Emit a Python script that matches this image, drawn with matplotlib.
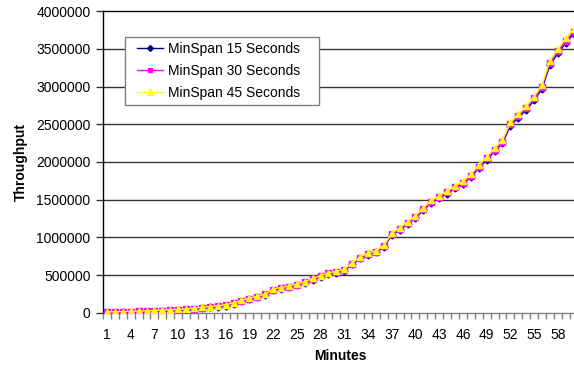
import matplotlib
matplotlib.use("Agg")
import matplotlib.pyplot as plt
from matplotlib.patches import Rectangle
from matplotlib.ticker import FixedLocator, FuncFormatter

plt.rcParams['font.family'] = ['Liberation Sans', 'DejaVu Sans']

minutes = list(range(1, 61))
span_15 = [0, 2000, 4000, 8000, 12000, 15000, 20000, 24000, 28000, 33000,
           38000, 50000, 62000, 70000, 80000, 95000, 120000, 150000, 180000, 205000,
           235000, 300000, 320000, 340000, 365000, 395000, 440000, 475000, 515000, 530000,
           560000, 640000, 720000, 770000, 800000, 870000, 1030000, 1100000, 1180000, 1260000,
           1360000, 1460000, 1520000, 1580000, 1650000, 1710000, 1800000, 1920000, 2030000, 2140000,
           2250000, 2480000, 2590000, 2690000, 2820000, 2970000, 3290000, 3440000, 3580000, 3700000]
span_30 = [5000, 7000, 9000, 13000, 17000, 20000, 25000, 29000, 33000, 38000,
           43000, 55000, 67000, 75000, 86000, 101000, 126000, 156000, 186000, 211000,
           242000, 307000, 327000, 347000, 373000, 403000, 448000, 483000, 524000, 539000,
           569000, 649000, 730000, 780000, 811000, 881000, 1042000, 1113000, 1193000, 1274000,
           1375000, 1475000, 1536000, 1596000, 1667000, 1727000, 1818000, 1938000, 2049000, 2160000,
           2271000, 2502000, 2613000, 2714000, 2845000, 2996000, 3318000, 3469000, 3610000, 3731000]
span_45 = [10000, 12000, 14000, 18000, 22000, 25000, 30000, 34000, 38000, 43000,
           49000, 61000, 73000, 81000, 91000, 106000, 132000, 162000, 193000, 218000,
           248000, 314000, 334000, 355000, 380000, 411000, 456000, 492000, 532000, 547000,
           578000, 659000, 740000, 791000, 821000, 892000, 1054000, 1125000, 1207000, 1288000,
           1389000, 1490000, 1551000, 1612000, 1683000, 1744000, 1835000, 1957000, 2068000, 2180000,
           2292000, 2525000, 2636000, 2738000, 2869000, 3022000, 3346000, 3498000, 3640000, 3762000]
series_labels = ['MinSpan 15 Seconds', 'MinSpan 30 Seconds', 'MinSpan 45 Seconds']
y_ticks = list(range(0, 4000001, 500000))
x_labels = list(range(1, 61, 3))

W, H = 574, 369
fig = plt.figure(figsize=(W / 100, H / 100), dpi=100)
left, right, top, bottom = 103, 577.6, 11.3, 312.7
ax = fig.add_axes([left / W, 1 - bottom / H, (right - left) / W, (bottom - top) / H])

grid_c = '#333333'
for v in y_ticks[1:-1]:
    ax.axhline(v, color=grid_c, lw=1.0, zorder=1)

ax.plot(minutes, span_15, color='#000080', marker='D', ms=3.5, lw=1.0, label=series_labels[0], zorder=3)
ax.plot(minutes, span_30, color='#FF00FF', marker='s', ms=4, lw=1.0, label=series_labels[1], zorder=4)
ax.plot(minutes, span_45, color='#FFFF00', marker='^', ms=5, lw=1.0, label=series_labels[2], zorder=5)

ax.set_xlim(0.5, 60.5)
ax.set_ylim(0, 4000000)

ax.xaxis.set_major_locator(FixedLocator(x_labels))
ax.xaxis.set_minor_locator(FixedLocator([i + 0.5 for i in range(0, 61)]))
ax.tick_params(axis='x', which='major', length=0, pad=11, labelsize=10)
ax.tick_params(axis='x', which='minor', length=4, width=1, color='#808080', direction='out')

ax.set_yticks(y_ticks)
ax.yaxis.set_major_formatter(FuncFormatter(lambda v, p: '%d' % v))
ax.tick_params(axis='y', length=5, width=1, color='#333333', direction='out', labelsize=10, pad=4)

for s in ['left', 'top']:
    ax.spines[s].set_color('black')
    ax.spines[s].set_linewidth(1.0)
ax.spines['bottom'].set_color('#808080')
ax.spines['bottom'].set_linewidth(1.0)
ax.spines['right'].set_visible(False)

ax.set_xlabel('Minutes', fontsize=10, fontweight='bold', labelpad=5)
ax.set_ylabel('Throughput', fontsize=10, fontweight='bold', labelpad=6)

# legend box drawn by hand, entries placed inside it
box = Rectangle((125 / W, 1 - 105 / H), 194 / W, 67.7 / H, transform=fig.transFigure,
                facecolor='white', edgecolor='#808080', lw=1.0, zorder=9)
fig.add_artist(box)
leg = ax.legend(loc='upper left', bbox_to_anchor=(137 / W, 1 - 41.5 / H),
                bbox_transform=fig.transFigure, fontsize=10, frameon=False,
                handlelength=1.85, handletextpad=0.35, markerscale=0.85,
                labelspacing=0.6, borderpad=0, borderaxespad=0)
leg.set_zorder(10)
fig.add_artist(leg)

fig.savefig('out.png', dpi=100)
